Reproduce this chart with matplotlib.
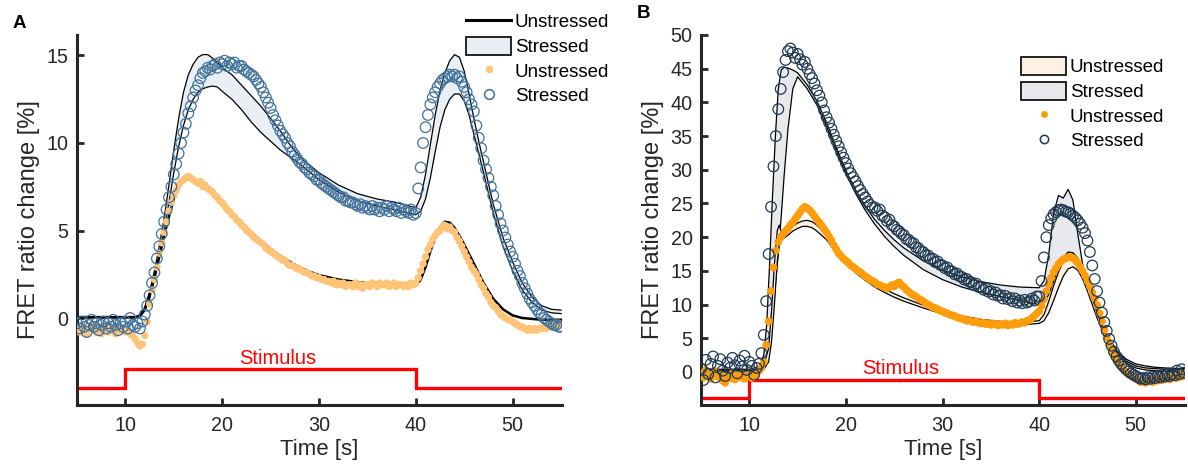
import numpy as np
import matplotlib
matplotlib.use("Agg")
import matplotlib.pyplot as plt
from matplotlib.lines import Line2D
from matplotlib.patches import Patch

plt.rcParams["font.family"] = ["Liberation Sans", "DejaVu Sans"]

# ---------------------------------------------------------------- data
# sampling grid of the measured traces (s)
t_data = np.arange(201) * 0.25 + 5.0

# Panel A: measured FRET ratio change (%)
unstressed_A = [
    -0.6, -0.8, -0.5, -0.7, -0.9, -0.6, -0.4, -0.7,
    -0.8, -0.5, -0.9, -0.6, -0.4, -0.8, -0.6, -0.7,
    -0.9, -0.5, -0.7, -0.6, -0.8, -0.7, -0.9, -1.0,
    -1.2, -1.4, -1.6, -1.5, -1.0, -0.2, 0.8, 1.6,
    2.2, 2.9, 3.7, 4.3, 4.9, 5.5, 6.1, 6.6,
    7.0, 7.3, 7.6, 7.8, 7.9, 8.0, 8.1, 8.0,
    7.9, 7.8, 7.7, 7.8, 7.5, 7.6, 7.4, 7.3,
    7.2, 7.0, 6.9, 6.7, 6.6, 6.4, 6.2, 6.1,
    5.9, 5.8, 5.6, 5.5, 5.3, 5.2, 5.0, 4.9,
    4.8, 4.6, 4.5, 4.4, 4.3, 4.2, 4.0, 3.9,
    3.8, 3.7, 3.6, 3.5, 3.4, 3.3, 3.3, 3.1,
    3.0, 3.0, 2.9, 2.8, 2.8, 2.7, 2.6, 2.6,
    2.5, 2.4, 2.4, 2.3, 2.3, 2.2, 2.2, 2.1,
    2.1, 2.0, 2.1, 1.9, 2.0, 1.9, 2.0, 1.8,
    1.9, 1.9, 1.8, 2.0, 1.8, 1.9, 1.7, 1.9,
    1.9, 1.8, 2.0, 1.9, 1.8, 2.0, 1.9, 1.9,
    2.0, 1.8, 1.9, 2.0, 1.8, 1.9, 1.9, 1.8,
    1.9, 1.8, 2.0, 1.9, 2.0, 2.3, 2.7, 3.1,
    3.5, 3.9, 4.2, 4.5, 4.7, 4.9, 5.0, 5.2,
    5.3, 5.1, 5.2, 5.0, 4.9, 4.6, 4.4, 4.1,
    3.8, 3.5, 3.2, 2.9, 2.7, 2.5, 2.2, 1.9,
    1.7, 1.4, 1.2, 0.9, 0.7, 0.6, 0.4, 0.2,
    0.1, 0.0, -0.1, -0.1, -0.2, -0.3, -0.4, -0.5,
    -0.5, -0.6, -0.7, -0.6, -0.7, -0.6, -0.7, -0.6,
    -0.6, -0.5, -0.6, -0.4, -0.5, -0.4, -0.5, -0.3,
    -0.4,
]
stressed_A = [
    -0.3, -0.6, -0.2, -0.5, -0.8, -0.4, -0.1, -0.5,
    -0.3, -0.7, -0.4, -0.2, -0.6, -0.3, -0.5, -0.1,
    -0.4, -0.7, -0.3, -0.5, -0.2, -0.6, 0.0, -0.4,
    -0.5, -0.3, -0.6, -0.2, 0.2, 0.7, 1.3, 2.0,
    2.6, 3.4, 4.1, 4.8, 5.5, 6.2, 6.9, 7.5,
    8.2, 8.8, 9.4, 10.0, 10.6, 11.1, 11.7, 12.1,
    12.6, 13.0, 13.3, 13.7, 14.0, 14.1, 14.3, 14.2,
    14.4, 14.5, 14.3, 14.6, 14.5, 14.7, 14.4, 14.6,
    14.5, 14.6, 14.3, 14.4, 14.4, 14.2, 14.1, 14.0,
    13.9, 13.8, 13.6, 13.4, 13.2, 12.9, 12.6, 12.3,
    12.0, 11.6, 11.3, 11.0, 10.7, 10.5, 10.3, 10.0,
    9.8, 9.5, 9.3, 9.1, 8.9, 8.8, 8.6, 8.5,
    8.3, 8.2, 8.1, 7.9, 7.9, 7.7, 7.6, 7.5,
    7.4, 7.3, 7.2, 7.1, 7.0, 6.9, 6.9, 6.7,
    6.7, 6.6, 6.6, 6.5, 6.4, 6.5, 6.3, 6.4,
    6.3, 6.2, 6.4, 6.2, 6.3, 6.1, 6.3, 6.2,
    6.4, 6.1, 6.3, 6.2, 6.1, 6.3, 6.0, 6.2,
    6.1, 6.0, 6.2, 5.9, 6.0, 7.4, 8.6, 10.0,
    10.9, 11.6, 12.2, 12.6, 12.9, 13.2, 13.4, 13.6,
    13.7, 13.8, 13.9, 13.8, 13.9, 13.7, 13.8, 13.5,
    13.2, 12.9, 12.5, 12.2, 11.8, 11.0, 10.3, 9.7,
    9.0, 8.5, 8.0, 7.5, 7.0, 6.4, 5.9, 5.4,
    5.0, 4.6, 4.2, 3.8, 3.5, 3.1, 2.7, 2.4,
    2.0, 1.7, 1.4, 1.1, 0.9, 0.7, 0.5, 0.3,
    0.2, 0.0, -0.1, -0.2, -0.3, -0.4, -0.4, -0.5,
    -0.5,
]

# Panel A: model fits
fitU_A_t = [5, 11, 11.5, 12, 12.5, 13, 13.5, 14, 14.5, 15, 15.5, 16, 16.5, 17,
            18, 19, 20, 21, 22, 23, 24, 25, 26, 27, 28, 29, 30, 32, 34, 36, 38,
            40, 40.5, 41, 41.5, 42, 42.5, 43, 43.5, 44, 44.5, 45, 46, 47, 48,
            49, 50, 51, 52, 53, 54, 55]
fitU_A = [0.05, 0.05, 0.1, 0.5, 1.3, 2.3, 3.5, 4.7, 5.8, 6.8, 7.5, 7.9, 8.05, 8.0,
          7.65, 7.15, 6.6, 6.0, 5.45, 4.9, 4.4, 3.95, 3.55, 3.2, 2.9, 2.65, 2.45,
          2.2, 2.05, 1.95, 1.85, 1.85, 2.2, 2.9, 3.8, 4.6, 5.2, 5.5, 5.45, 5.15,
          4.7, 4.2, 3.1, 2.0, 1.1, 0.5, 0.15, 0.0, -0.05, -0.1, -0.1, -0.1]

fitS_A_t = [5, 11, 11.5, 12, 12.5, 13, 13.5, 14, 14.5, 15, 15.5, 16, 16.5, 17,
            17.5, 18, 18.5, 19, 19.5, 20, 21, 22, 23, 24, 25, 26, 27, 28, 30, 32,
            34, 36, 38, 40, 40.5, 41, 41.5, 42, 42.5, 43, 43.5, 44, 44.5, 45,
            45.5, 46, 46.5, 47, 48, 49, 50, 51, 52, 53, 54, 55]
fitS_A_hi = [0.05, 0.05, 0.2, 0.6, 1.5, 2.7, 4.1, 5.7, 7.6, 9.6, 11.4, 12.9, 13.9,
             14.5, 14.9, 15.05, 15.05, 14.85, 14.6, 14.3, 13.9, 13.3, 12.7, 12.1,
             11.4, 10.7, 9.9, 9.2, 8.3, 7.6, 7.1, 6.8, 6.6, 6.3, 6.9, 8.2, 9.9,
             11.6, 13.0, 14.0, 14.7, 15.05, 14.9, 14.1, 12.8, 11.4, 10.1, 8.9,
             6.5, 4.6, 3.2, 2.0, 1.2, 0.7, 0.5, 0.45]
fitS_A_lo = [0.0, 0.0, 0.1, 0.4, 1.1, 2.2, 3.5, 5.0, 6.6, 8.3, 9.8, 11.0, 11.9,
             12.5, 12.9, 13.1, 13.2, 13.25, 13.2, 12.95, 12.5, 11.9, 11.2, 10.6,
             10.1, 9.6, 9.2, 8.8, 7.9, 7.2, 6.7, 6.4, 6.15, 5.9, 6.1, 6.8, 8.0,
             9.5, 10.9, 11.9, 12.5, 12.8, 12.8, 12.4, 11.6, 10.5, 9.4, 8.3, 6.0,
             4.1, 2.7, 1.6, 0.9, 0.45, 0.3, 0.25]

# Panel B: measured FRET ratio change (%)
unstressed_B = [
    -0.2, -0.8, 0.3, -0.5, -1.0, -0.3, 0.1, -0.7,
    -0.4, -1.3, -1.6, -0.6, -0.9, -0.2, -1.1, -0.5,
    -0.8, -0.3, -1.0, -0.6, -0.4, -0.9, -0.7, -0.3,
    0.2, 0.6, 1.5, 4.0, 7.5, 12.0, 15.5, 18.0,
    19.3, 20.0, 20.5, 20.9, 21.3, 21.8, 22.2, 22.7,
    23.2, 23.7, 24.2, 24.5, 24.3, 24.0, 23.6, 23.1,
    22.6, 22.2, 21.7, 21.2, 20.7, 20.1, 19.5, 18.8,
    18.2, 17.6, 17.2, 16.8, 16.5, 16.2, 15.8, 15.6,
    15.3, 15.0, 14.8, 14.5, 14.2, 14.0, 13.7, 13.5,
    13.3, 13.0, 12.9, 12.7, 12.6, 12.4, 12.6, 12.9,
    12.7, 13.1, 13.3, 12.9, 12.6, 12.2, 11.9, 11.6,
    11.4, 11.2, 10.9, 10.7, 10.5, 10.2, 10.0, 9.8,
    9.6, 9.5, 9.3, 9.1, 9.0, 8.8, 8.7, 8.5,
    8.4, 8.3, 8.1, 8.0, 7.9, 7.8, 7.6, 7.7,
    7.5, 7.4, 7.5, 7.3, 7.2, 7.3, 7.1, 7.2,
    7.0, 7.2, 7.1, 6.9, 7.1, 7.0, 7.2, 6.9,
    7.1, 7.0, 7.3, 7.1, 7.2, 7.4, 7.3, 7.6,
    7.7, 8.0, 8.3, 8.7, 9.0, 9.8, 10.8, 12.0,
    13.0, 14.0, 14.8, 15.4, 16.0, 16.4, 16.7, 16.9,
    17.0, 17.1, 16.9, 16.6, 16.2, 15.6, 15.0, 14.3,
    13.5, 12.7, 11.8, 10.9, 9.9, 8.7, 7.5, 6.3,
    5.2, 4.1, 3.2, 2.4, 1.7, 1.2, 0.7, 0.3,
    0.0, -0.3, -0.5, -0.8, -1.0, -1.2, -1.5, -1.3,
    -1.6, -1.4, -1.2, -1.5, -1.1, -1.3, -0.9, -1.2,
    -1.0, -0.7, -1.1, -0.8, -0.6, -0.9, -0.4, -0.7,
    -0.5,
]
stressed_B = [
    0.5, -1.2, 1.8, -0.3, 1.2, 2.3, -0.8, 0.9,
    1.9, 0.2, -0.6, 1.4, 0.6, 2.1, 1.0, -0.2,
    1.7, 0.8, 2.4, 0.3, 1.5, 0.9, -0.4, 0.6,
    1.2, 2.8, 5.5, 10.5, 17.5, 24.5, 30.5, 35.0,
    39.0, 42.0, 44.5, 46.3, 47.6, 48.0, 47.4, 46.6,
    47.2, 46.4, 45.6, 46.0, 45.0, 44.2, 43.6, 42.8,
    41.8, 41.0, 40.0, 38.8, 37.8, 37.0, 36.1, 35.2,
    34.3, 33.5, 32.6, 31.8, 31.0, 30.2, 29.5, 28.9,
    28.3, 27.6, 27.0, 26.4, 25.9, 25.3, 24.8, 24.4,
    24.4, 23.9, 24.1, 23.2, 23.0, 22.4, 22.6, 21.8,
    21.6, 21.1, 20.9, 20.5, 20.3, 19.7, 19.6, 19.2,
    19.1, 18.5, 18.4, 17.9, 17.8, 17.3, 17.3, 16.8,
    16.8, 16.3, 16.4, 15.9, 15.8, 15.4, 15.5, 15.0,
    14.9, 14.5, 14.6, 14.2, 14.1, 13.7, 13.8, 13.4,
    13.3, 12.9, 13.1, 12.6, 12.6, 12.2, 12.4, 11.9,
    12.0, 11.5, 11.8, 11.3, 11.4, 10.9, 11.3, 10.8,
    11.0, 10.5, 10.9, 10.3, 10.6, 10.2, 10.7, 10.3,
    10.5, 10.9, 10.6, 11.2, 11.2, 13.5, 17.0, 20.0,
    21.8, 22.8, 23.4, 23.7, 24.0, 24.1, 24.0, 23.8,
    23.7, 23.5, 23.2, 22.9, 22.5, 22.0, 21.4, 20.6,
    19.5, 17.8, 15.8, 13.8, 12.0, 10.3, 8.8, 7.4,
    6.1, 4.9, 3.9, 3.0, 2.3, 1.7, 1.2, 0.8,
    0.4, 0.1, -0.2, -0.4, -0.6, -0.8, -1.0, -0.9,
    -1.1, -0.8, -1.0, -0.7, -0.9, -0.6, -0.8, -0.5,
    -0.7, -0.4, -0.6, -0.3, -0.5, 0.2, -0.3, 0.4,
    -0.1,
]

# Panel B: model fit envelopes
fitU_B_t = [5, 10, 11, 11.5, 12.0, 12.3, 12.6, 12.9, 13.1, 13.3, 13.6, 14.0, 14.5,
            15.0, 15.5, 16, 16.5, 17, 18, 19, 20, 21, 22, 23, 24, 25, 26, 28, 30,
            32, 34, 36, 38, 40, 40.5, 41, 41.5, 42, 42.5, 43, 43.5, 44, 44.5, 45,
            45.5, 46, 46.5, 47, 48, 49, 50, 51, 52, 53, 55]
fitU_B_hi = [0.2, 0.2, 0.4, 1.0, 3.5, 9.0, 16.0, 21.0, 21.8, 20.8, 20.6, 21.0,
             21.6, 22.1, 22.4, 22.5, 22.3, 21.8, 20.4, 18.6, 16.8, 15.3, 14.1,
             13.1, 12.3, 11.6, 11.0, 9.9, 9.0, 8.3, 7.8, 7.5, 7.4, 7.6, 8.5, 10.5,
             12.8, 14.8, 16.5, 17.5, 17.6, 16.8, 15.2, 13.1, 10.9, 8.8, 6.9, 5.3,
             3.0, 1.6, 0.9, 0.6, 0.5, 0.4, 0.4]
fitU_B_lo = [0.0, 0.0, 0.1, 0.4, 1.5, 4.5, 10.0, 16.5, 19.0, 19.6, 19.9, 20.3,
             20.9, 21.3, 21.6, 21.6, 21.4, 20.9, 19.6, 17.8, 16.1, 14.7, 13.6,
             12.6, 11.8, 11.1, 10.5, 9.5, 8.6, 7.9, 7.4, 7.1, 7.0, 7.2, 7.6, 8.8,
             10.6, 12.5, 14.2, 15.3, 15.6, 15.1, 13.8, 12.0, 10.0, 8.0, 6.3, 4.8,
             2.6, 1.3, 0.6, 0.3, 0.2, 0.1, 0.1]

fitS_B_t = [5, 10, 11, 11.5, 11.8, 12.1, 12.4, 12.7, 13.0, 13.3, 13.6, 14.0, 14.5,
            15.0, 16, 17, 18, 19, 20, 21, 22, 23, 24, 25, 26, 28, 30, 32, 34, 36,
            38, 40, 40.5, 41, 41.5, 42, 42.5, 43, 43.5, 44, 44.5, 45, 45.5, 46,
            46.5, 47, 48, 49, 50, 51, 52, 53, 55]
fitS_B_hi = [0.4, 0.4, 0.8, 2.5, 7.0, 16.0, 26.0, 35.0, 42.0, 44.8, 45.2, 45.1,
             44.8, 44.4, 42.6, 40.2, 37.0, 33.3, 29.9, 27.0, 24.6, 22.6, 21.0,
             19.6, 18.4, 16.5, 15.1, 14.1, 13.4, 12.9, 12.6, 12.5, 13.5, 17.5,
             23.5, 26.2, 25.8, 27.1, 25.5, 20.5, 16.0, 12.8, 10.5, 8.7, 7.0, 5.5,
             3.3, 1.9, 1.2, 0.9, 0.7, 0.6, 0.5]
fitS_B_lo = [0.0, 0.0, 0.1, 0.6, 1.5, 3.5, 7.5, 13.0, 17.5, 23.0, 29.0, 36.0, 42.0,
             43.8, 42.0, 39.6, 36.4, 32.8, 29.4, 26.5, 24.0, 21.9, 20.1, 18.6,
             17.3, 15.2, 13.7, 12.6, 11.8, 11.2, 10.6, 10.0, 10.3, 11.5, 13.5,
             15.5, 17.0, 17.8, 17.7, 16.9, 15.2, 13.0, 10.8, 8.6, 6.8, 5.2, 3.0,
             1.6, 0.8, 0.4, 0.2, 0.1, 0.0]

# stimulus timing (s) and drawn levels per panel
stim_on, stim_off = 10, 40
stim_levels_A = (-4.0, -2.9)
stim_levels_B = (-3.9, -1.2)

# ---------------------------------------------------------------- style
c_orange_A = "#FFC477"
c_blue_A = "#40729C"
c_fillS_A = "#E9EFF4"
c_orange_B = "#FF9C0A"
c_navy_B = "#203A52"
c_fillU_B = "#FDF1E3"
c_fillS_B = "#E7E9EC"
c_axis = "#262626"

fig = plt.figure(figsize=(11.88, 4.69), dpi=100)
W, H = 1188, 469
axA = fig.add_axes([77 / W, 64 / H, 485 / W, 370 / H])
axB = fig.add_axes([701 / W, 64 / H, 484 / W, 370 / H])


def style_axes(ax, ylim, yticks):
    ax.set_xlim(5, 55.1)
    ax.set_ylim(*ylim)
    ax.set_xticks([10, 20, 30, 40, 50])
    ax.set_yticks(yticks)
    for s in ("top", "right"):
        ax.spines[s].set_visible(False)
    for s in ("left", "bottom"):
        ax.spines[s].set_linewidth(2.2)
        ax.spines[s].set_color(c_axis)
    ax.tick_params(direction="in", length=5, width=2, color=c_axis,
                   labelsize=14.2, labelcolor=c_axis)
    ax.tick_params(axis="x", pad=8)
    ax.tick_params(axis="y", pad=6)
    ax.set_xlabel("Time [s]", fontsize=16, color=c_axis, labelpad=3)
    ax.set_ylabel("FRET ratio change [%]", fontsize=17, color=c_axis, labelpad=5)


def stimulus(ax, levels, text_y):
    lo, hi = levels
    ax.plot([5, stim_on, stim_off, 55.1], [lo, hi, lo, lo], drawstyle="steps-post",
            color="#FF0000", lw=2.4, solid_joinstyle="miter", zorder=2)
    ax.text((stim_on + stim_off) / 2 + 0.7, text_y, "Stimulus", color="#FF0000",
            fontsize=14.5, ha="center", va="center")


# ---- panel A
axA.fill_between(fitS_A_t, fitS_A_lo, fitS_A_hi, facecolor=c_fillS_A,
                 edgecolor="none", zorder=1)
axA.plot(fitS_A_t, fitS_A_hi, color="black", lw=0.9, zorder=1.5)
axA.plot(fitS_A_t, fitS_A_lo, color="black", lw=0.9, zorder=1.5)
axA.plot(fitU_A_t, fitU_A, color="black", lw=1.8, zorder=1.6)
axA.scatter(t_data, unstressed_A, s=28, color=c_orange_A, edgecolors="none", zorder=3)
axA.scatter(t_data, stressed_A, s=58, facecolors="none", edgecolors=c_blue_A,
            linewidths=0.9, zorder=4)
stimulus(axA, stim_levels_A, -2.3)
style_axes(axA, (-4.97, 16.17), [0, 5, 10, 15])

# ---- panel B
axB.fill_between(fitS_B_t, fitS_B_lo, fitS_B_hi, facecolor=c_fillS_B,
                 edgecolor="none", zorder=1)
axB.plot(fitS_B_t, fitS_B_hi, color="black", lw=0.9, zorder=1.5)
axB.plot(fitS_B_t, fitS_B_lo, color="black", lw=0.9, zorder=1.5)
axB.fill_between(fitU_B_t, fitU_B_lo, fitU_B_hi, facecolor=c_fillU_B,
                 edgecolor="none", zorder=1.6)
axB.plot(fitU_B_t, fitU_B_hi, color="black", lw=0.9, zorder=1.7)
axB.plot(fitU_B_t, fitU_B_lo, color="black", lw=0.9, zorder=1.7)
axB.scatter(t_data, unstressed_B, s=32, color=c_orange_B, edgecolors="none", zorder=3)
axB.scatter(t_data, stressed_B, s=58, facecolors="none", edgecolors=c_navy_B,
            linewidths=0.9, zorder=4)
stimulus(axB, stim_levels_B, 0.45)
style_axes(axB, (-4.9, 50.0), list(range(0, 51, 5)))

# ---- legends
leg_kw = dict(frameon=False, fontsize=13.5, handlelength=2.4, handleheight=1.1,
              handletextpad=0.2, labelspacing=0.28, borderpad=0.0,
              borderaxespad=0.0, loc="upper left")
handles_A = [
    Line2D([], [], color="black", lw=2.2),
    Patch(facecolor=c_fillS_A, edgecolor="black", lw=1.2),
    Line2D([], [], ls="none", marker="o", ms=5.5, mfc=c_orange_A, mec="none"),
    Line2D([], [], ls="none", marker="o", ms=7, mfc="none", mec=c_blue_A, mew=1.1),
]
fig.legend(handles_A, ["Unstressed", "Stressed", "Unstressed", "Stressed"],
           bbox_to_anchor=(466 / W, 1 - 12 / H), **leg_kw)

handles_B = [
    Patch(facecolor=c_fillU_B, edgecolor="black", lw=1.2),
    Patch(facecolor=c_fillS_B, edgecolor="black", lw=1.2),
    Line2D([], [], ls="none", marker="o", ms=5, mfc=c_orange_B, mec="none"),
    Line2D([], [], ls="none", marker="o", ms=6, mfc="none", mec=c_navy_B, mew=1.1),
]
fig.legend(handles_B, ["Unstressed", "Stressed", "Unstressed", "Stressed"],
           bbox_to_anchor=(1021 / W, 1 - 57 / H), **leg_kw)

# ---- panel letters
fig.text(13 / W, 1 - 23 / H, "A", fontsize=13.5, fontweight="bold", va="center")
fig.text(637 / W, 1 - 13 / H, "B", fontsize=13.5, fontweight="bold", va="center")

fig.savefig("out.png", dpi=100, facecolor="white")
